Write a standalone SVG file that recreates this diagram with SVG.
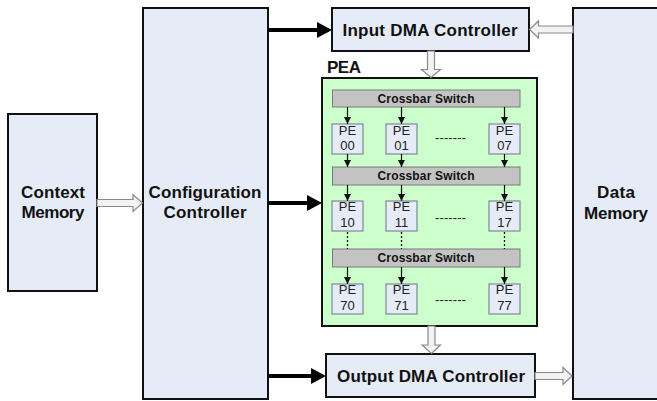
<svg xmlns="http://www.w3.org/2000/svg" width="657" height="401" viewBox="0 0 657 401">
  <style>
    .block { fill: #E6ECF7; stroke: #111; stroke-width: 2; }
    .pea { fill: #CCFFCC; stroke: #111; stroke-width: 2; }
    .xbar { fill: #C3C3C3; stroke: #7A7A7A; stroke-width: 1; }
    .pe { fill: #E6ECF7; stroke: #7F8896; stroke-width: 1.2; }
    .lbl { font-family: "Liberation Sans", Arial, sans-serif; font-weight: bold; font-size: 17px; fill: #111; text-anchor: middle; }
    .xlbl { font-family: "Liberation Sans", Arial, sans-serif; font-weight: bold; font-size: 12px; fill: #111; text-anchor: middle; }
    .pet { font-family: "Liberation Sans", Arial, sans-serif; font-size: 13px; fill: #222; text-anchor: middle; }
    .bus { stroke: #000; stroke-width: 4; fill: none; marker-end: url(#bighead); }
    .link { stroke: #111; stroke-width: 1.2; fill: none; marker-end: url(#smallhead); }
    .dots { stroke: #111; stroke-width: 1.3; stroke-dasharray: 2 2; fill: none; }
    .hollow { fill: #F3F3F3; stroke: #8A8A8A; stroke-width: 1.2; stroke-linejoin: miter; }
  </style>
  <defs>
    <marker id="bighead" viewBox="0 0 15 16" markerWidth="15" markerHeight="16" refX="5" refY="8" orient="auto" markerUnits="userSpaceOnUse">
      <path d="M0,0 L15,8 L0,16 z" fill="#000"/>
    </marker>
    <marker id="smallhead" viewBox="0 0 7 7" markerWidth="7" markerHeight="7" refX="7" refY="3.5" orient="auto" markerUnits="userSpaceOnUse">
      <path d="M0,0 L7,3.5 L0,7 z" fill="#111"/>
    </marker>
  </defs>

  <!-- Context Memory -->
  <g id="context-memory">
    <rect class="block" x="8" y="114" width="89" height="177"/>
    <text class="lbl" x="53" y="198" textLength="64" lengthAdjust="spacing">Context</text>
    <text class="lbl" x="53" y="218" textLength="63" lengthAdjust="spacing">Memory</text>
  </g>

  <!-- Configuration Controller -->
  <g id="configuration-controller">
    <rect class="block" x="143" y="8" width="125" height="391"/>
    <text class="lbl" x="205" y="198" textLength="113" lengthAdjust="spacing">Configuration</text>
    <text class="lbl" x="205" y="218" textLength="83" lengthAdjust="spacing">Controller</text>
  </g>

  <!-- Input DMA Controller -->
  <g id="input-dma">
    <rect class="block" x="332" y="8" width="197" height="43"/>
    <text class="lbl" x="430" y="35.5" textLength="175" lengthAdjust="spacing">Input DMA Controller</text>
  </g>

  <!-- Output DMA Controller -->
  <g id="output-dma">
    <rect class="block" x="326" y="354" width="209" height="43"/>
    <text class="lbl" x="431" y="382" textLength="188" lengthAdjust="spacing">Output DMA Controller</text>
  </g>

  <!-- Data Memory -->
  <g id="data-memory">
    <rect class="block" x="573" y="8" width="130" height="391"/>
    <text class="lbl" x="616" y="198" textLength="38" lengthAdjust="spacing">Data</text>
    <text class="lbl" x="616" y="219" textLength="64" lengthAdjust="spacing">Memory</text>
  </g>

  <!-- Processing element array -->
  <g id="pea">
    <text class="lbl" x="344" y="73" textLength="34" lengthAdjust="spacing">PEA</text>
    <rect class="pea" x="322" y="78" width="215" height="248"/>

    <g id="crossbar-0">
      <rect class="xbar" x="332.5" y="90" width="187.5" height="17"/>
      <text class="xlbl" x="426" y="102.5" textLength="97" lengthAdjust="spacing">Crossbar Switch</text>
    </g>
    <g id="crossbar-1">
      <rect class="xbar" x="332.5" y="167" width="187.5" height="18"/>
      <text class="xlbl" x="426" y="180" textLength="97" lengthAdjust="spacing">Crossbar Switch</text>
    </g>
    <g id="crossbar-7">
      <rect class="xbar" x="332.5" y="249" width="187.5" height="18"/>
      <text class="xlbl" x="426" y="262" textLength="97" lengthAdjust="spacing">Crossbar Switch</text>
    </g>

    <!-- row 0 -->
    <g id="pe-00"><rect class="pe" x="332" y="124" width="31" height="30"/><text class="pet" x="347.5" y="134.5">PE</text><text class="pet" x="347.5" y="150">00</text></g>
    <g id="pe-01"><rect class="pe" x="386" y="124" width="31" height="30"/><text class="pet" x="401.5" y="134.5">PE</text><text class="pet" x="401.5" y="150">01</text></g>
    <g id="pe-07"><rect class="pe" x="489" y="124" width="31" height="30"/><text class="pet" x="504.5" y="134.5">PE</text><text class="pet" x="504.5" y="150">07</text></g>
    <text class="pet" x="450.5" y="142" textLength="31" lengthAdjust="spacing">-------</text>

    <!-- row 1 -->
    <g id="pe-10"><rect class="pe" x="332" y="201" width="31" height="30"/><text class="pet" x="347.5" y="211">PE</text><text class="pet" x="347.5" y="227">10</text></g>
    <g id="pe-11"><rect class="pe" x="386" y="201" width="31" height="30"/><text class="pet" x="401.5" y="211">PE</text><text class="pet" x="401.5" y="227">11</text></g>
    <g id="pe-17"><rect class="pe" x="489" y="201" width="31" height="30"/><text class="pet" x="504.5" y="211">PE</text><text class="pet" x="504.5" y="227">17</text></g>
    <text class="pet" x="450.5" y="222" textLength="31" lengthAdjust="spacing">-------</text>

    <!-- row 7 -->
    <g id="pe-70"><rect class="pe" x="332" y="284" width="31" height="30"/><text class="pet" x="347.5" y="293.5">PE</text><text class="pet" x="347.5" y="309.5">70</text></g>
    <g id="pe-71"><rect class="pe" x="386" y="284" width="31" height="30"/><text class="pet" x="401.5" y="293.5">PE</text><text class="pet" x="401.5" y="309.5">71</text></g>
    <g id="pe-77"><rect class="pe" x="489" y="284" width="31" height="30"/><text class="pet" x="504.5" y="293.5">PE</text><text class="pet" x="504.5" y="309.5">77</text></g>
    <text class="pet" x="450.5" y="304" textLength="31" lengthAdjust="spacing">-------</text>
  </g>

  <!-- Connectors -->
  <g id="connectors">
    <!-- configuration buses -->
    <line class="bus" x1="268" y1="30" x2="322" y2="30"/>
    <line class="bus" x1="268" y1="203" x2="312" y2="203"/>
    <line class="bus" x1="268" y1="376" x2="316" y2="376"/>

    <!-- data paths -->
    <polygon class="hollow" points="97,199.5 133,199.5 133,194.5 142.5,203 133,211.5 133,206.5 97,206.5"/>
    <polygon class="hollow" points="573,26 538.5,26 538.5,21 529.5,29.5 538.5,38 538.5,33 573,33"/>
    <polygon class="hollow" points="535,372.5 563,372.5 563,367.5 572,376 563,384.5 563,379.5 535,379.5"/>
    <polygon class="hollow" points="427.5,51 434.5,51 434.5,69.5 440.5,69.5 431,77.5 421.5,69.5 427.5,69.5"/>
    <polygon class="hollow" points="428,326 435,326 435,345 440.5,345 431.5,353.5 422,345 428,345"/>

    <!-- crossbar to PE links -->
    <line class="link" x1="347.5" y1="107" x2="347.5" y2="124"/>
    <line class="link" x1="401.5" y1="107" x2="401.5" y2="124"/>
    <line class="link" x1="504.5" y1="107" x2="504.5" y2="124"/>
    <line class="link" x1="347.5" y1="154" x2="347.5" y2="167"/>
    <line class="link" x1="401.5" y1="154" x2="401.5" y2="167"/>
    <line class="link" x1="504.5" y1="154" x2="504.5" y2="167"/>
    <line class="link" x1="347.5" y1="185" x2="347.5" y2="201"/>
    <line class="link" x1="401.5" y1="185" x2="401.5" y2="201"/>
    <line class="link" x1="504.5" y1="185" x2="504.5" y2="201"/>
    <line class="dots" x1="347.5" y1="232" x2="347.5" y2="249"/>
    <line class="dots" x1="401.5" y1="232" x2="401.5" y2="249"/>
    <line class="dots" x1="504.5" y1="232" x2="504.5" y2="249"/>
    <line class="link" x1="347.5" y1="267" x2="347.5" y2="284"/>
    <line class="link" x1="401.5" y1="267" x2="401.5" y2="284"/>
    <line class="link" x1="504.5" y1="267" x2="504.5" y2="284"/>
  </g>
</svg>
